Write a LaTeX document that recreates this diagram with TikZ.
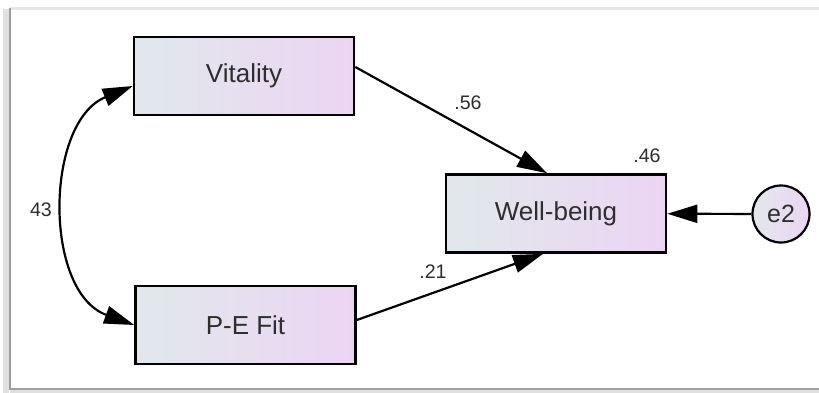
\documentclass[tikz,border=0pt]{standalone}
\usepackage{fontspec}
\setmainfont{Liberation Sans}
\usepackage{tikz}
\usetikzlibrary{arrows.meta,positioning,calc}
\definecolor{boxl}{HTML}{E1E8EC}
\definecolor{boxr}{HTML}{ECD5F3}
\definecolor{txt}{HTML}{2E2E2E}

\begin{document}
\begin{tikzpicture}[x=0.5pt,y=-0.5pt]
      \tikzstyle{var}=[rectangle,draw,line width=1.3pt,minimum width=110pt,minimum height=39pt,inner sep=0pt,left color=boxl,right color=boxr,text=txt,font=\fontsize{13}{15}\selectfont]
      \tikzstyle{err}=[circle,draw,line width=1.1pt,minimum size=28.5pt,inner sep=0pt,left color=boxl,right color=boxr,text=txt,font=\fontsize{12.5}{15}\selectfont]
      \tikzstyle{coef}=[inner sep=0pt,text=txt,font=\fontsize{9.8}{12}\selectfont]
      \useasboundingbox (0,0) rectangle (819,392);
      % frame
      \draw[black!10,line width=1.5pt] (10,8) -- (819,8);
      \draw[black!12,line width=3pt] (6,9) -- (6,393);
      \draw[black!12,line width=3pt] (10,392) -- (819,392);
      \draw[black!38,line width=1.2pt] (10,8) -- (10,389) -- (819,389);
      % variables
      \node[var] (vit) at (244,76) {Vitality};
      \node[var] (pef) at (245.5,325) {P-E Fit};
      \node[var] (wb) at (556,213.5) {Well-being};
      \node[err] (e2) at (781,214) {e2};
      % paths
      \draw[line width=1.1pt,-{Triangle[length=15pt,width=9pt]}] ([yshift=4.5pt]vit.east) -- ([xshift=-4.5pt]wb.north);
      \draw[line width=1.1pt,-{Triangle[length=15pt,width=9pt]}] ([yshift=2.5pt]pef.east) -- ([xshift=-6.5pt]wb.south);
      \draw[line width=1.1pt,-{Triangle[length=15pt,width=9pt]}] (e2) -- (wb);
      \draw[line width=1.1pt,{Triangle[length=15pt,width=9pt]}-{Triangle[length=15pt,width=9pt]}] ([yshift=-5pt]vit.west) .. controls +(-88,36) and +(-91,-33) .. (pef.west);
      % estimates
      \node[coef] (c56) at (468,103) {.56};
      \node[coef] (c46) at (647,156) {.46};
      \node[coef] (c21) at (433,272) {.21};
      \node[coef] (c43) at (41,210) {43};
    \end{tikzpicture}
\end{document}
